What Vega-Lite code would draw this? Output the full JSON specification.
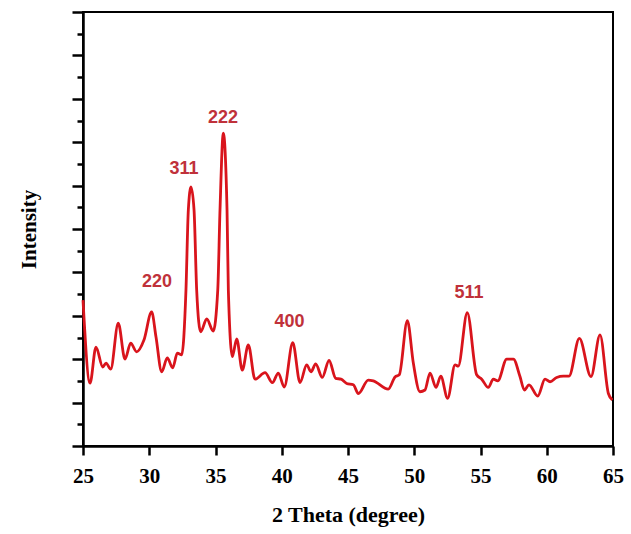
{
  "$schema": "https://vega.github.io/schema/vega-lite/v6.json",
  "width": 530,
  "height": 434,
  "autosize": {"type": "none"},
  "padding": {"left": 83, "top": 12, "right": 18, "bottom": 88},
  "background": "white",
  "config": {"view": {"stroke": "black", "strokeWidth": 2}, "axis": {"grid": false}},
  "datasets": {
    "xrd": [
      {"theta": 25.0, "intensity": 3.36}, {"theta": 25.53, "intensity": 1.45}, {"theta": 25.98, "intensity": 2.28},
      {"theta": 26.49, "intensity": 1.82}, {"theta": 26.74, "intensity": 1.91}, {"theta": 27.09, "intensity": 1.77},
      {"theta": 27.66, "intensity": 2.83}, {"theta": 28.17, "intensity": 2.0}, {"theta": 28.6, "intensity": 2.37},
      {"theta": 29.05, "intensity": 2.17}, {"theta": 29.6, "intensity": 2.44}, {"theta": 30.18, "intensity": 3.09},
      {"theta": 30.51, "intensity": 2.51}, {"theta": 30.94, "intensity": 1.71}, {"theta": 31.36, "intensity": 2.03},
      {"theta": 31.77, "intensity": 1.8}, {"theta": 32.12, "intensity": 2.14}, {"theta": 32.45, "intensity": 2.1},
      {"theta": 32.77, "intensity": 3.59}, {"theta": 32.95, "intensity": 5.44}, {"theta": 33.15, "intensity": 5.97},
      {"theta": 33.38, "intensity": 5.44}, {"theta": 33.58, "intensity": 3.59}, {"theta": 33.88, "intensity": 2.63},
      {"theta": 34.34, "intensity": 2.93}, {"theta": 34.83, "intensity": 2.65}, {"theta": 35.17, "intensity": 3.59},
      {"theta": 35.34, "intensity": 5.44}, {"theta": 35.59, "intensity": 7.21}, {"theta": 35.87, "intensity": 5.44},
      {"theta": 35.97, "intensity": 3.59}, {"theta": 36.27, "intensity": 2.06}, {"theta": 36.6, "intensity": 2.47},
      {"theta": 37.02, "intensity": 1.75}, {"theta": 37.48, "intensity": 2.33}, {"theta": 37.98, "intensity": 1.54},
      {"theta": 38.74, "intensity": 1.69}, {"theta": 39.29, "intensity": 1.46}, {"theta": 39.74, "intensity": 1.68},
      {"theta": 40.19, "intensity": 1.36}, {"theta": 40.83, "intensity": 2.38}, {"theta": 41.38, "intensity": 1.46},
      {"theta": 41.88, "intensity": 1.87}, {"theta": 42.21, "intensity": 1.71}, {"theta": 42.56, "intensity": 1.89},
      {"theta": 43.06, "intensity": 1.58}, {"theta": 43.57, "intensity": 1.97}, {"theta": 44.07, "intensity": 1.56},
      {"theta": 44.47, "intensity": 1.54}, {"theta": 44.9, "intensity": 1.44}, {"theta": 45.4, "intensity": 1.41},
      {"theta": 45.78, "intensity": 1.21}, {"theta": 46.53, "intensity": 1.52}, {"theta": 46.91, "intensity": 1.5},
      {"theta": 48.04, "intensity": 1.31}, {"theta": 48.55, "intensity": 1.59}, {"theta": 48.87, "intensity": 1.64},
      {"theta": 49.48, "intensity": 2.89}, {"theta": 49.93, "intensity": 1.91}, {"theta": 50.43, "intensity": 1.25},
      {"theta": 50.81, "intensity": 1.29}, {"theta": 51.19, "intensity": 1.68}, {"theta": 51.64, "intensity": 1.35},
      {"theta": 52.0, "intensity": 1.61}, {"theta": 52.52, "intensity": 1.1}, {"theta": 53.08, "intensity": 1.87},
      {"theta": 53.32, "intensity": 1.84}, {"theta": 54.0, "intensity": 3.07}, {"theta": 54.71, "intensity": 1.64},
      {"theta": 55.09, "intensity": 1.54}, {"theta": 55.59, "intensity": 1.35}, {"theta": 55.97, "intensity": 1.54},
      {"theta": 56.3, "intensity": 1.5}, {"theta": 56.98, "intensity": 2.0}, {"theta": 57.48, "intensity": 2.0},
      {"theta": 57.98, "intensity": 1.6}, {"theta": 58.31, "intensity": 1.29}, {"theta": 58.66, "intensity": 1.41},
      {"theta": 59.32, "intensity": 1.15}, {"theta": 59.87, "intensity": 1.54}, {"theta": 60.25, "intensity": 1.48},
      {"theta": 60.75, "intensity": 1.58}, {"theta": 61.25, "intensity": 1.61}, {"theta": 61.68, "intensity": 1.61},
      {"theta": 62.46, "intensity": 2.48}, {"theta": 63.34, "intensity": 1.6}, {"theta": 64.02, "intensity": 2.56},
      {"theta": 64.65, "intensity": 1.21}, {"theta": 64.95, "intensity": 1.06}
    ],
    "peaks": [
      {"theta": 30.58, "intensity": 3.66, "label": "220"},
      {"theta": 32.62, "intensity": 6.27, "label": "311"},
      {"theta": 35.57, "intensity": 7.44, "label": "222"},
      {"theta": 40.58, "intensity": 2.74, "label": "400"},
      {"theta": 54.13, "intensity": 3.41, "label": "511"}
    ]
  },
  "encoding": {
    "x": {
      "field": "theta",
      "type": "quantitative",
      "scale": {"domain": [25, 65], "nice": false, "zero": false},
      "axis": {
        "title": "2 Theta (degree)",
        "values": [25, 30, 35, 40, 45, 50, 55, 60, 65],
        "tickSize": 9,
        "tickWidth": 2.5,
        "tickColor": "black",
        "domainColor": "black",
        "domainWidth": 2.5,
        "labelFont": "Liberation Serif",
        "labelFontSize": 21,
        "labelFontWeight": "bold",
        "labelColor": "black",
        "labelPadding": 10,
        "labelFlush": false,
        "labelOverlap": false,
        "titleFont": "Liberation Serif",
        "titleFontSize": 22,
        "titleFontWeight": "bold",
        "titleColor": "black",
        "titlePadding": 18
      }
    },
    "y": {
      "field": "intensity",
      "type": "quantitative",
      "scale": {"domain": [0, 10], "nice": false},
      "axis": {
        "title": "Intensity",
        "labels": false,
        "values": [0, 0.5, 1, 1.5, 2, 2.5, 3, 3.5, 4, 4.5, 5, 5.5, 6, 6.5, 7, 7.5, 8, 8.5, 9, 9.5, 10],
        "tickSize": {"condition": {"test": "datum.value % 1 === 0", "value": 11}, "value": 6},
        "tickWidth": 2.5,
        "tickColor": "black",
        "domainColor": "black",
        "domainWidth": 2.5,
        "titleFont": "Liberation Serif",
        "titleFontSize": 21,
        "titleFontWeight": "bold",
        "titleColor": "black",
        "titlePadding": 31
      }
    }
  },
  "layer": [
    {
      "data": {"name": "xrd"},
      "mark": {"type": "line", "color": "#d9141c", "strokeWidth": 2.8, "interpolate": "monotone"}
    },
    {
      "data": {"name": "peaks"},
      "mark": {"type": "text", "font": "Liberation Sans", "fontSize": 18, "fontWeight": "bold", "color": "#c0313a", "align": "center", "baseline": "alphabetic"},
      "encoding": {"text": {"field": "label"}}
    }
  ]
}
